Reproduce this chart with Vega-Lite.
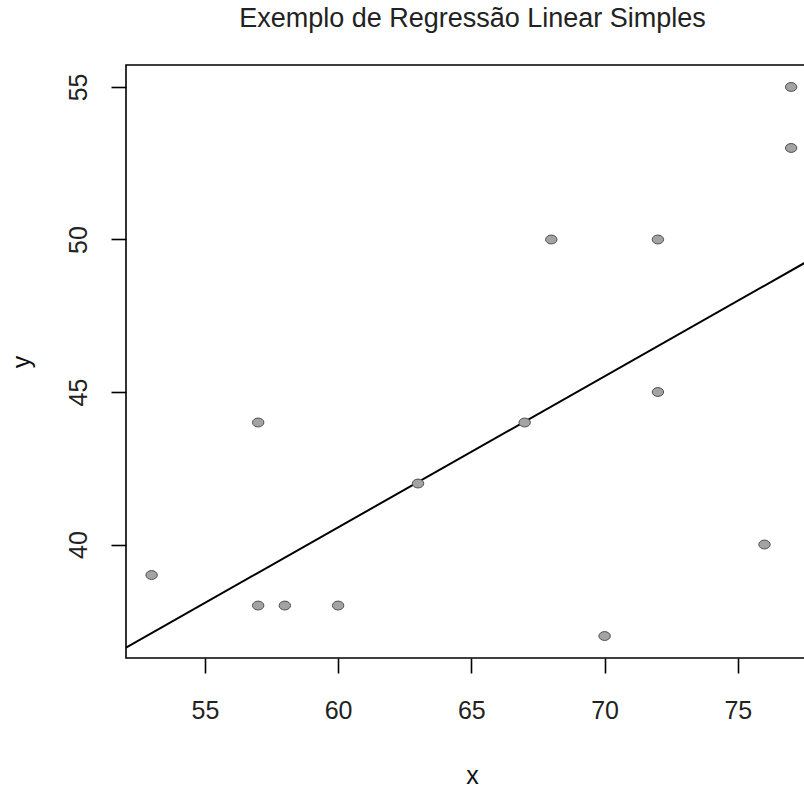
{
  "$schema": "https://vega.github.io/schema/vega-lite/v6.json",
  "width": 679,
  "height": 593,
  "autosize": {"type": "none"},
  "padding": {"left": 126, "top": 65, "right": 0, "bottom": 129},
  "background": "white",
  "title": {
    "text": "Exemplo de Regressão Linear Simples",
    "font": "Liberation Sans",
    "fontSize": 27,
    "fontWeight": "normal",
    "color": "#222222",
    "anchor": "middle",
    "dx": 7,
    "offset": 32
  },
  "datasets": {
    "pts": [
      {"x": 53, "y": 39},
      {"x": 57, "y": 44},
      {"x": 57, "y": 38},
      {"x": 58, "y": 38},
      {"x": 60, "y": 38},
      {"x": 63, "y": 42},
      {"x": 67, "y": 44},
      {"x": 68, "y": 50},
      {"x": 70, "y": 37},
      {"x": 72, "y": 50},
      {"x": 72, "y": 45},
      {"x": 76, "y": 40},
      {"x": 77, "y": 55},
      {"x": 77, "y": 53}
    ],
    "fit": [
      {"x": 52.04, "y": 36.62},
      {"x": 77.52, "y": 49.24}
    ]
  },
  "layer": [
    {
      "data": {"name": "fit"},
      "mark": {"type": "line", "color": "black", "strokeWidth": 2, "clip": true},
      "encoding": {
        "x": {"field": "x", "type": "quantitative"},
        "y": {"field": "y", "type": "quantitative"}
      }
    },
    {
      "data": {"name": "pts"},
      "mark": {"type": "point", "filled": true, "shape": "M-1,0A1,0.78 0 1,0 1,0A1,0.78 0 1,0 -1,0Z", "size": 130, "color": "#a3a3a3", "stroke": "#505050", "strokeWidth": 1, "opacity": 1},
      "encoding": {
        "x": {"field": "x", "type": "quantitative"},
        "y": {"field": "y", "type": "quantitative"}
      }
    }
  ],
  "encoding": {
    "x": {
      "field": "x",
      "type": "quantitative",
      "scale": {"domain": [52.04, 77.52], "nice": false, "zero": false},
      "axis": {
        "values": [55, 60, 65, 70, 75],
        "title": "x",
        "titleX": 346,
        "labelPadding": 25,
        "titlePadding": 40
      }
    },
    "y": {
      "field": "y",
      "type": "quantitative",
      "scale": {"domain": [36.28, 55.72], "nice": false, "zero": false},
      "axis": {
        "values": [40, 45, 50, 55],
        "title": "y",
        "labelAngle": 270,
        "labelPadding": 20,
        "titlePadding": 32
      }
    }
  },
  "config": {
    "view": {"stroke": "black", "strokeWidth": 1.6},
    "axis": {
      "grid": false,
      "domain": false,
      "ticks": true,
      "tickSize": 15,
      "tickColor": "black",
      "tickWidth": 1.6,
      "labelFont": "Liberation Sans",
      "labelFontSize": 25,
      "labelColor": "#222222",
      "titleFont": "Liberation Sans",
      "titleFontSize": 25,
      "titleFontWeight": "normal",
      "titleColor": "#111111"
    }
  }
}
